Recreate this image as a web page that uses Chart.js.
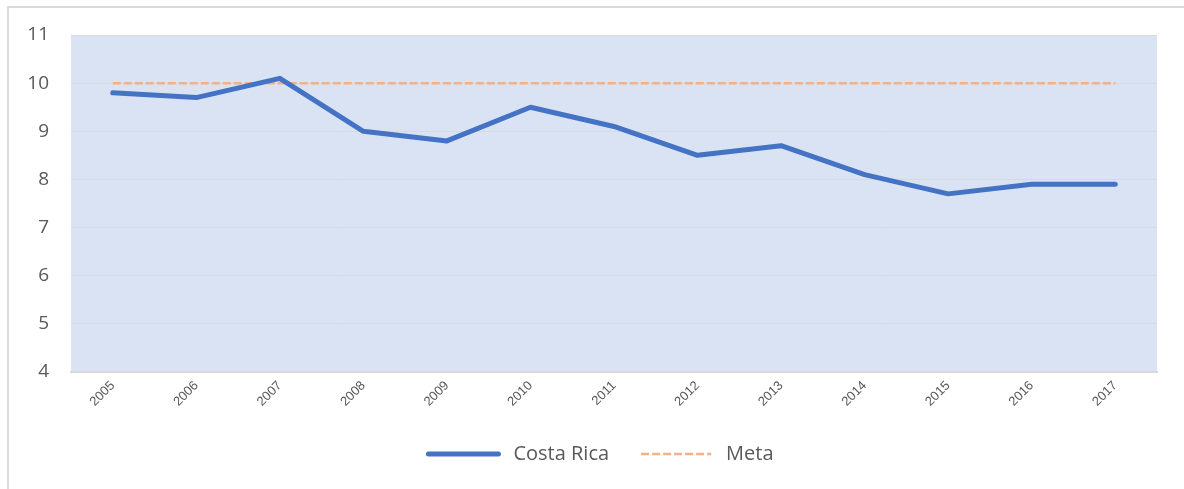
<!DOCTYPE html>
<html>
<head>
<meta charset="utf-8">
<script src="https://cdn.jsdelivr.net/npm/chart.js@4.4.1/dist/chart.umd.min.js"></script>
<style>
  html, body { margin: 0; padding: 0; background: #fff; }
  #frame {
    position: absolute; left: 7px; top: 6px;
    width: 1190px; height: 500px;
    border-left: 2px solid #d9d9d9; border-top: 2px solid #d9d9d9;
    box-sizing: border-box;
  }
  #wrap { position: absolute; left: 9px; top: 8px; width: 1168px; height: 481px; }
</style>
</head>
<body>
<div id="frame"></div>
<div id="wrap"><canvas id="chart"></canvas></div>
<script>
const years = ['2005', '2006', '2007', '2008', '2009', '2010', '2011', '2012', '2013', '2014', '2015', '2016', '2017'];
const costaRica = [9.8, 9.7, 10.1, 9.0, 8.8, 9.5, 9.1, 8.5, 8.7, 8.1, 7.7, 7.9, 7.9];
const meta = [10, 10, 10, 10, 10, 10, 10, 10, 10, 10, 10, 10, 10];
const yTicks = [4, 5, 6, 7, 8, 9, 10, 11];

// Fill the plot area with the light blue background
const plotBackground = {
    id: 'plotBackground',
    beforeDraw(chart) {
        const { ctx, chartArea } = chart;
        ctx.save();
        ctx.fillStyle = '#dae3f3';
        ctx.fillRect(chartArea.left, chartArea.top, chartArea.right - chartArea.left, chartArea.bottom - chartArea.top);
        ctx.restore();
    }
};

// Legend in the original sits a bit right of the canvas centre
const legendShift = {
    id: 'legendShift',
    afterLayout(chart) {
        if (chart.legend) {
            chart.legend.left += 18;
            chart.legend.right += 18;
        }
    }
};

const ctx = document.getElementById('chart').getContext('2d');
new Chart(ctx, {
    type: 'line',
    data: {
        labels: years,
        datasets: [{
            label: 'Costa Rica',
            data: costaRica,
            borderColor: '#4472c4',
            backgroundColor: '#4472c4',
            borderWidth: 5,
            borderCapStyle: 'round',
            borderJoinStyle: 'round',
            pointRadius: 0,
            tension: 0,
            fill: false
        }, {
            label: 'Meta',
            data: meta,
            borderColor: '#f4b183',
            backgroundColor: '#f4b183',
            borderWidth: 2.5,
            borderDash: [8, 3],
            pointRadius: 0,
            fill: false
        }]
    },
    options: {
        responsive: true,
        maintainAspectRatio: false,
        animation: false,
        layout: { padding: { top: 27, right: 20, left: 0, bottom: 15 } },
        scales: {
            x: {
                offset: true,
                grid: { display: false, drawTicks: false },
                border: { display: true, color: '#d9d9d9', width: 2 },
                ticks: {
                    color: '#595959',
                    font: { family: 'Liberation Sans', size: 13 },
                    maxRotation: 45,
                    minRotation: 45,
                    padding: 6
                },
                afterFit(axis) { axis.height = 40; }
            },
            y: {
                min: 4,
                max: 11,
                afterBuildTicks(axis) { axis.ticks = yTicks.map(v => ({ value: v })); },
                // invisible tick marks push the labels left without adding top padding
                grid: { color: '#d9d9d9', lineWidth: 1, drawTicks: true, tickLength: 22, tickColor: 'rgba(0,0,0,0)' },
                border: { display: false },
                ticks: {
                    color: '#595959',
                    font: { family: 'Open Sans', size: 19 },
                    padding: 0
                },
                afterFit(axis) { axis.width = 62; }
            }
        },
        plugins: {
            legend: {
                position: 'bottom',
                labels: {
                    usePointStyle: true,
                    pointStyle: 'line',
                    pointStyleWidth: 70,
                    color: '#595959',
                    font: { family: 'Open Sans', size: 20 },
                    padding: 32,
                    generateLabels(chart) {
                        // point style drops the dataset dash, so put it back
                        const items = Chart.defaults.plugins.legend.labels.generateLabels(chart);
                        items.forEach(item => {
                            const ds = chart.data.datasets[item.datasetIndex];
                            item.text = '\u2005' + item.text;
                            item.lineDash = ds.borderDash || [];
                            item.lineWidth = ds.borderWidth;
                            item.lineCap = ds.borderCapStyle || 'butt';
                            item.strokeStyle = ds.borderColor;
                        });
                        return items;
                    }
                }
            },
            tooltip: { enabled: false }
        }
    },
    plugins: [plotBackground, legendShift]
});
</script>
</body>
</html>
